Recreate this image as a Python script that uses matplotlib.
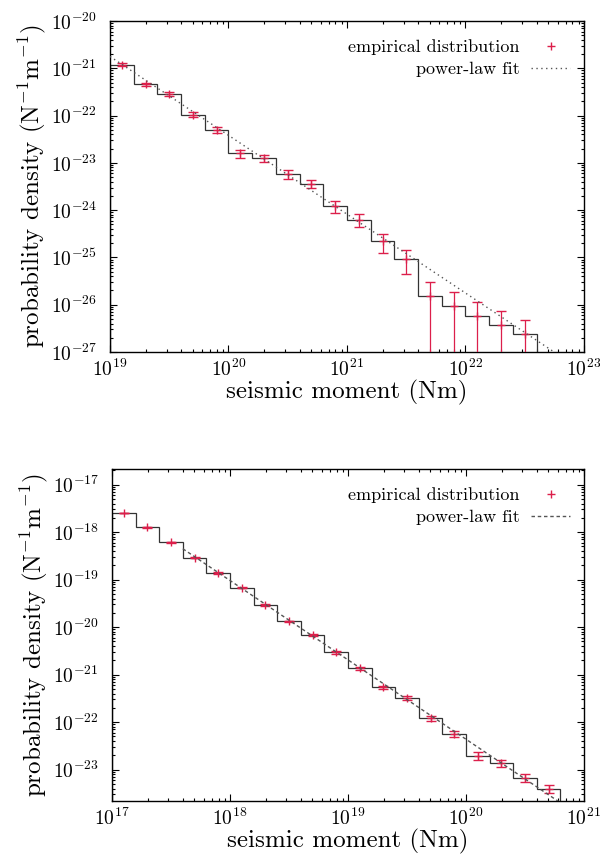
import numpy as np
import matplotlib
matplotlib.use("Agg")
import matplotlib.pyplot as plt
from matplotlib.ticker import LogLocator, NullFormatter

# LaTeX-like look (gnuplot epslatex style)
plt.rcParams['font.family'] = ['cmr10', 'DejaVu Serif']
plt.rcParams['mathtext.fontset'] = 'cm'
plt.rcParams['axes.unicode_minus'] = False
plt.rcParams['axes.formatter.use_mathtext'] = True

# ---- top panel: bins of 0.2 decades from 1e19 to 10^22.6 ----
top_edges = 10 ** np.linspace(19.0, 22.6, 19)
top_density = [1.20e-21, 4.57e-22, 2.88e-22, 1.05e-22, 5.01e-23, 1.58e-23,
               1.26e-23, 5.75e-24, 3.63e-24, 1.20e-24, 6.31e-25, 2.19e-25,
               9.33e-26, 1.51e-26, 9.33e-27, 5.75e-27, 3.72e-27, 2.40e-27]
top_rel_err = [0.071, 0.092, 0.092, 0.12, 0.139, 0.196, 0.174, 0.204, 0.204,
               0.28, 0.31, 0.42, 0.51, 1.0, 1.0, 1.0, 1.0, 1.0]
top_fit_x = [1e19, 1e23]
top_fit_y = [1.78e-21, 3.8e-28]
top_xticks = [1e19, 1e20, 1e21, 1e22, 1e23]
top_yticks = [1e-27, 1e-26, 1e-25, 1e-24, 1e-23, 1e-22, 1e-21, 1e-20]

# ---- bottom panel: bins of 0.2 decades from 1e17 to 10^20.8 ----
bot_edges = 10 ** np.linspace(17.0, 20.8, 20)
bot_density = [2.51e-18, 1.26e-18, 6.17e-19, 2.88e-19, 1.38e-19, 6.76e-20,
               2.95e-20, 1.32e-20, 6.92e-21, 2.95e-21, 1.35e-21, 5.37e-22,
               3.24e-22, 1.20e-22, 5.62e-23, 1.95e-23, 1.38e-23, 6.76e-24,
               3.98e-24]
bot_rel_err = [0.016, 0.018, 0.020, 0.023, 0.027, 0.031, 0.037, 0.044, 0.048,
               0.058, 0.069, 0.086, 0.088, 0.115, 0.134, 0.18, 0.17, 0.19, 0.20]
bot_fit_x = [3.98e17, 1e21]
bot_fit_y = [4.47e-19, 9.3e-25]
bot_xticks = [1e17, 1e18, 1e19, 1e20, 1e21]
bot_yticks = [1e-23, 1e-22, 1e-21, 1e-20, 1e-19, 1e-18, 1e-17]

RED = '#dc1f4b'


def draw_panel(ax, edges, density, rel_err, fit_x, fit_y, xlim, ylim,
               xticks, yticks, dashes):
    density = np.array(density)
    rel = np.array(rel_err)
    centers = np.sqrt(edges[:-1] * edges[1:])
    lo = np.minimum(rel, 0.999999) * density
    hi = rel * density

    ax.stairs(density, edges, baseline=1e-40, color='#333333', lw=0.9, zorder=2)
    eb = ax.errorbar(centers, density, yerr=[lo, hi], fmt='+', color=RED,
                     ms=6, mew=1.0, elinewidth=0.9, capsize=3.5, capthick=0.9,
                     zorder=3)
    fit, = ax.plot(fit_x, fit_y, color='#555555', lw=1.0, dashes=dashes, zorder=4)

    ax.set_xscale('log')
    ax.set_yscale('log')
    ax.set_xticks(xticks)
    ax.set_yticks(yticks)
    ax.xaxis.set_minor_locator(LogLocator(base=10, subs=np.arange(2, 10), numticks=100))
    ax.yaxis.set_minor_locator(LogLocator(base=10, subs=np.arange(2, 10), numticks=100))
    ax.xaxis.set_minor_formatter(NullFormatter())
    ax.yaxis.set_minor_formatter(NullFormatter())
    ax.set_xlim(*xlim)
    ax.set_ylim(*ylim)

    ax.tick_params(which='both', direction='in', top=True, right=True, width=0.8)
    ax.tick_params(which='major', length=5)
    ax.tick_params(which='minor', length=2.5)
    ax.tick_params(axis='x', labelsize=14, pad=5)
    ax.tick_params(axis='y', labelsize=14, pad=9.5)
    for sp in ax.spines.values():
        sp.set_linewidth(1.0)

    ax.set_xlabel('seismic moment (Nm)', fontsize=18, labelpad=0)
    ax.set_ylabel(r'probability density (N$^{-1}$m$^{-1}$)', fontsize=18, labelpad=2)

    ax.legend([eb[0], fit], ['empirical distribution', 'power-law fit'],
              loc='upper right', bbox_to_anchor=(1.0, 0.985), frameon=False,
              markerfirst=False, fontsize=13, handlelength=2.2,
              handletextpad=0.6, labelspacing=0.35, borderaxespad=0.35)


fig = plt.figure(figsize=(6, 8.55), dpi=100)
ax1 = fig.add_axes([0.1833, 0.5883, 0.79, 0.3871])
ax2 = fig.add_axes([0.1867, 0.0632, 0.7866, 0.3883])

draw_panel(ax1, top_edges, top_density, top_rel_err, top_fit_x, top_fit_y,
           (1e19, 1e23), (1e-27, 1e-20), top_xticks, top_yticks, (1, 2.5))
draw_panel(ax2, bot_edges, bot_density, bot_rel_err, bot_fit_x, bot_fit_y,
           (1e17, 1e21), (10 ** -23.66, 10 ** -16.67), bot_xticks, bot_yticks,
           (2.5, 2))

fig.savefig('out.png', dpi=100)
